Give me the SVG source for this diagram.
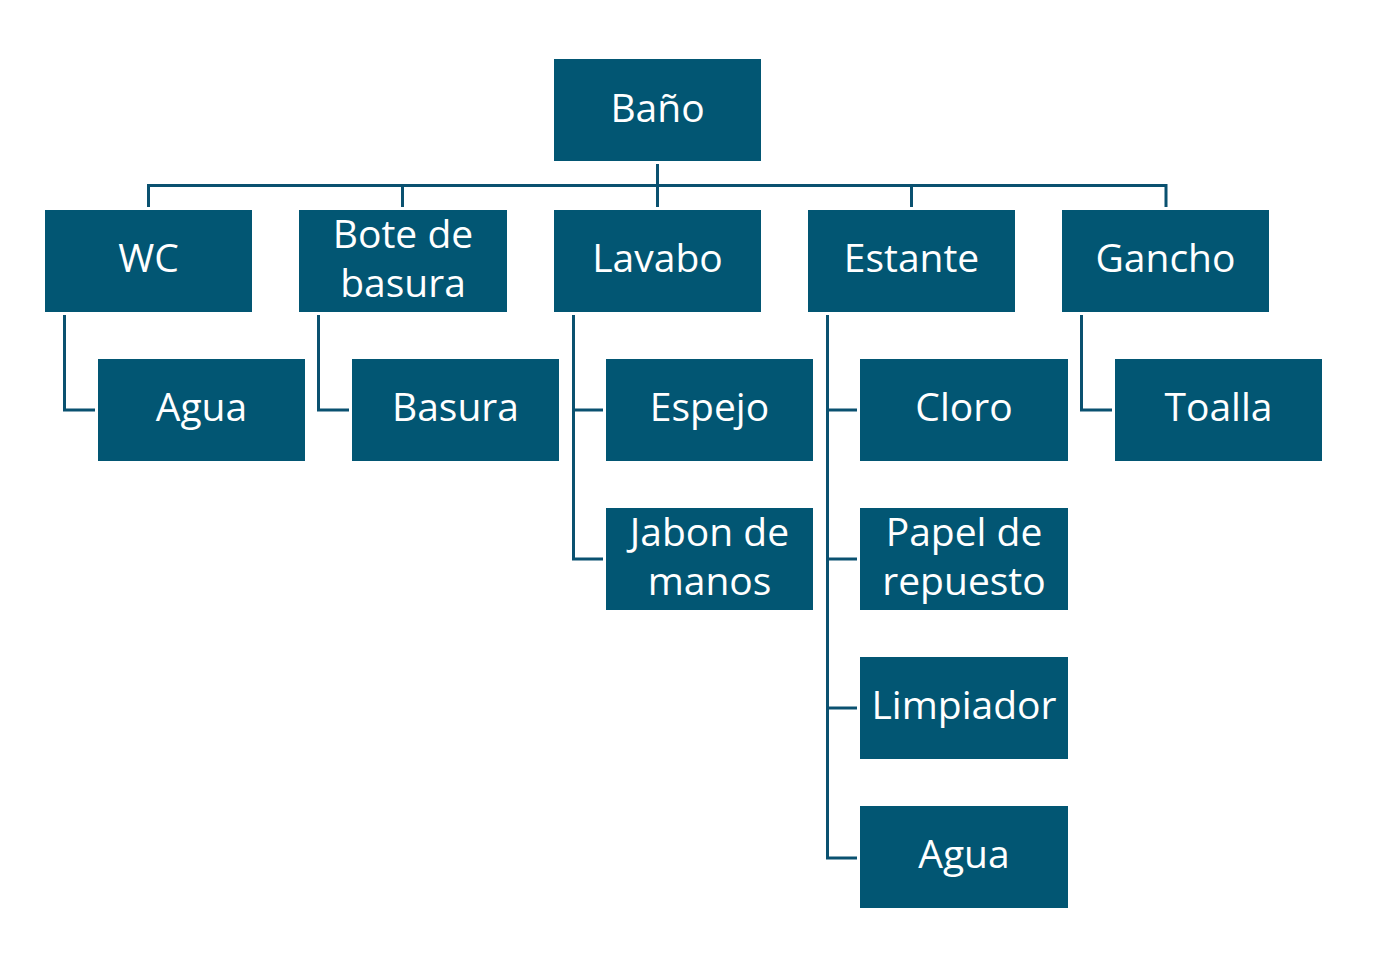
<svg xmlns="http://www.w3.org/2000/svg" width="1382" height="967" viewBox="0 0 1382 967">
<style>
.box{fill:#025673}
.lbl{fill:#ffffff;font-family:"Open Sans","Liberation Sans",sans-serif;font-size:39px;text-anchor:middle}
.con{fill:none;stroke:#0a5170;stroke-width:3}
</style>
<rect width="1382" height="967" fill="#ffffff"/>
<g id="connectors">
<path class="con" d="M657.5 164 V207"/>
<path class="con" d="M148.5 207 V185.5 H1166 V207"/>
<path class="con" d="M402.5 185.5 V207"/>
<path class="con" d="M911.5 185.5 V207"/>
<path class="con" d="M64.5 315 V410 H95"/>
<path class="con" d="M318.5 315 V410 H349"/>
<path class="con" d="M573.5 315 V559 H603"/>
<path class="con" d="M573.5 410 H603"/>
<path class="con" d="M827.5 315 V858 H857"/>
<path class="con" d="M827.5 410 H857"/>
<path class="con" d="M827.5 559 H857"/>
<path class="con" d="M827.5 708 H857"/>
<path class="con" d="M1081.5 315 V410 H1112"/>
</g>
<g id="bano"><rect class="box" x="554" y="59" width="207" height="102"/><text class="lbl" x="657.5" y="122">Baño</text></g>
<g id="wc"><rect class="box" x="45" y="210" width="207" height="102"/><text class="lbl" x="148.5" y="272">WC</text></g>
<g id="bote"><rect class="box" x="299" y="210" width="208" height="102"/><text class="lbl" x="403" y="248">Bote de</text><text class="lbl" x="403" y="297">basura</text></g>
<g id="lavabo"><rect class="box" x="554" y="210" width="207" height="102"/><text class="lbl" x="657.5" y="272">Lavabo</text></g>
<g id="estante"><rect class="box" x="808" y="210" width="207" height="102"/><text class="lbl" x="911.5" y="272">Estante</text></g>
<g id="gancho"><rect class="box" x="1062" y="210" width="207" height="102"/><text class="lbl" x="1165.5" y="272">Gancho</text></g>
<g id="agua1"><rect class="box" x="98" y="359" width="207" height="102"/><text class="lbl" x="201.5" y="421">Agua</text></g>
<g id="basura"><rect class="box" x="352" y="359" width="207" height="102"/><text class="lbl" x="455.5" y="421">Basura</text></g>
<g id="espejo"><rect class="box" x="606" y="359" width="207" height="102"/><text class="lbl" x="709.5" y="421">Espejo</text></g>
<g id="jabon"><rect class="box" x="606" y="508" width="207" height="102"/><text class="lbl" x="709.5" y="546">Jabon de</text><text class="lbl" x="709.5" y="595">manos</text></g>
<g id="cloro"><rect class="box" x="860" y="359" width="208" height="102"/><text class="lbl" x="964" y="421">Cloro</text></g>
<g id="papel"><rect class="box" x="860" y="508" width="208" height="102"/><text class="lbl" x="964" y="546">Papel de</text><text class="lbl" x="964" y="595">repuesto</text></g>
<g id="limpiador"><rect class="box" x="860" y="657" width="208" height="102"/><text class="lbl" x="964" y="719">Limpiador</text></g>
<g id="agua2"><rect class="box" x="860" y="806" width="208" height="102"/><text class="lbl" x="964" y="868">Agua</text></g>
<g id="toalla"><rect class="box" x="1115" y="359" width="207" height="102"/><text class="lbl" x="1218.5" y="421">Toalla</text></g>
</svg>
